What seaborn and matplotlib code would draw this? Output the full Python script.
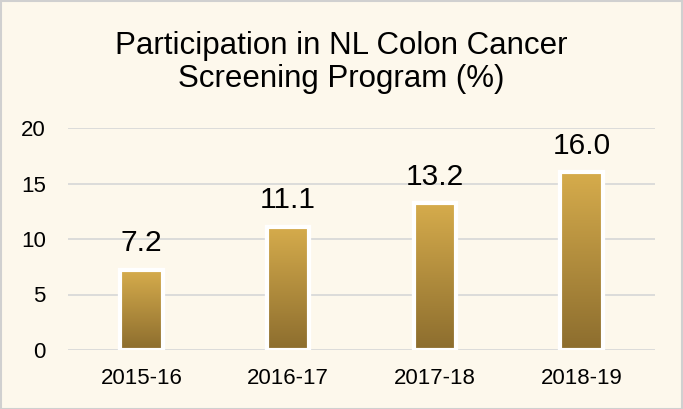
import matplotlib.pyplot as plt
import matplotlib.patches as mpatches
import matplotlib.colors as mcolors
import numpy as np
import pandas as pd
import seaborn as sns

years = ["2015-16", "2016-17", "2017-18", "2018-19"]
participation = [7.2, 11.1, 13.2, 16.0]
y_ticks = [0, 5, 10, 15, 20]

bg = "#FDF8EC"
sns.set_style("white")
plt.rcParams["font.family"] = ["Liberation Sans", "DejaVu Sans"]

df = pd.DataFrame({"Year": years, "Participation": participation})

fig = plt.figure(figsize=(6.83, 4.09), dpi=100, facecolor=bg)
ax = fig.add_axes([68 / 683, 59 / 409, 587 / 683, 222 / 409])
ax.set_facecolor(bg)

sns.barplot(data=df, x="Year", y="Participation", ax=ax, width=0.29,
            color="#C9A04A", edgecolor="white", linewidth=3, zorder=3)

# gold vertical gradient inside each bar
cmap = mcolors.LinearSegmentedColormap.from_list("gold", ["#8C6D2E", "#D6AC4C"])
grad = np.linspace(0, 1, 256).reshape(-1, 1)
for patch in ax.patches:
    x0, y0 = patch.get_x(), patch.get_y()
    w, h = patch.get_width(), patch.get_height()
    im = ax.imshow(grad, cmap=cmap, origin="lower", aspect="auto",
                   extent=[x0, x0 + w, y0, y0 + h], zorder=3.5)
    im.set_clip_path(patch)
    # redraw white edge on top
    ax.add_patch(mpatches.Rectangle((x0, y0), w, h, fill=False,
                                    edgecolor="white", linewidth=3, zorder=4))

for i, v in enumerate(participation):
    ax.text(i, v + 1.7, f"{v:.1f}", ha="center", va="baseline", fontsize=21.5, color="black")

ax.set_xlim(-0.5, 3.5)
ax.set_ylim(0, 20)
ax.set_yticks(y_ticks)
ax.yaxis.grid(True, color="#D9D9D9", linewidth=1.3, zorder=0)
ax.set_axisbelow(True)
sns.despine(ax=ax, left=True, bottom=True)
ax.tick_params(axis="both", length=0, labelsize=16, colors="black")
ax.tick_params(axis="y", pad=16)
ax.tick_params(axis="x", pad=13)
ax.set_xlabel("")
ax.set_ylabel("")

fig.text(0.5, 0.848, "Participation in NL Colon Cancer\nScreening Program (%)",
         ha="center", va="center", fontsize=22.5, linespacing=1.12, color="black")

fig.patches.append(mpatches.Rectangle((0.001, 0.001), 0.997, 0.997, transform=fig.transFigure,
                                      fill=False, edgecolor="#D0D0D0", linewidth=1.5))

fig.savefig("out.png", dpi=100, facecolor=bg)
